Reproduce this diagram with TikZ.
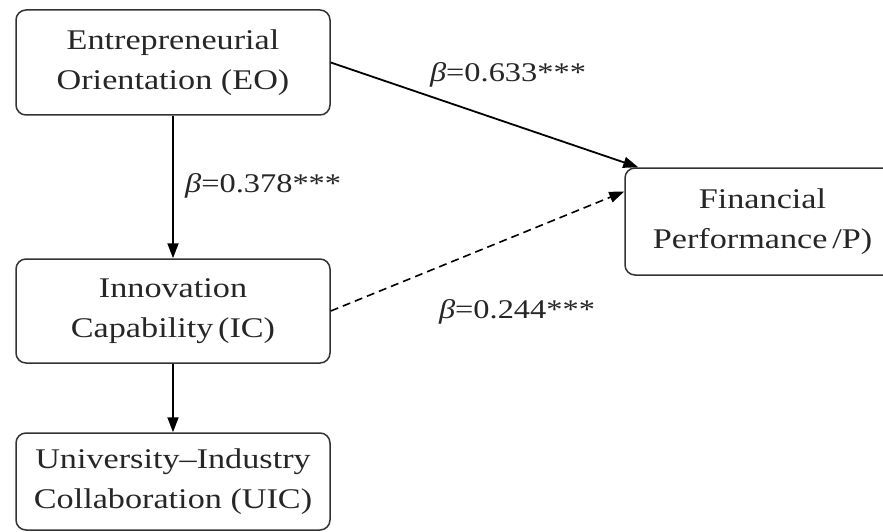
\documentclass[tikz,border=0pt]{standalone}
\usepackage{fontspec}
\setmainfont{Liberation Serif}[FakeStretch=1.2]
\usetikzlibrary{arrows.meta}
\begin{document}
\begin{tikzpicture}[x=1pt,y=-1pt,
  box/.style={draw=black!80, line width=1.5pt, rounded corners=10pt, align=center,
    font=\fontsize{28.5}{40}\selectfont, inner sep=0pt, text=black!85},
  conn/.style={line width=1.8pt, -{Triangle[length=15pt,width=11pt]}},
  lab/.style={font=\fontsize{27}{30}\selectfont, inner sep=0pt, text=black!85}]
\useasboundingbox (0,0) rectangle (883,532);
\node[box, minimum width=314pt, minimum height=105pt] (EO) at (173,62.5) {Entrepreneurial\\Orientation (EO)};
\node[box, minimum width=314pt, minimum height=104pt] (IC) at (173,311) {Innovation\\Capability\,(IC)};
\node[box, minimum width=314pt, minimum height=97pt] (UIC) at (173,481.5) {University–Industry\\Collaboration (UIC)};
\node[box, minimum width=275pt, minimum height=107pt] (FP) at (762.5,221.5) {Financial\\Performance\,/P)};
\draw[conn] (EO.east) -- ([xshift=14pt]FP.north west);
\draw[conn] (EO.south) -- (IC.north);
\draw[conn] (IC.south) -- (UIC.north);
\draw[conn, line width=1.6pt, dash pattern=on 8pt off 5pt] (IC.east) -- ([yshift=30pt]FP.west);
\node[lab] (l1) at (508,75) {{\itshape β}=0.633***};
\node[lab, anchor=west] (l2) at (185,186) {{\itshape β}=0.378***};
\node[lab] (l3) at (517,312) {{\itshape β}=0.244***};
\end{tikzpicture}
\end{document}
